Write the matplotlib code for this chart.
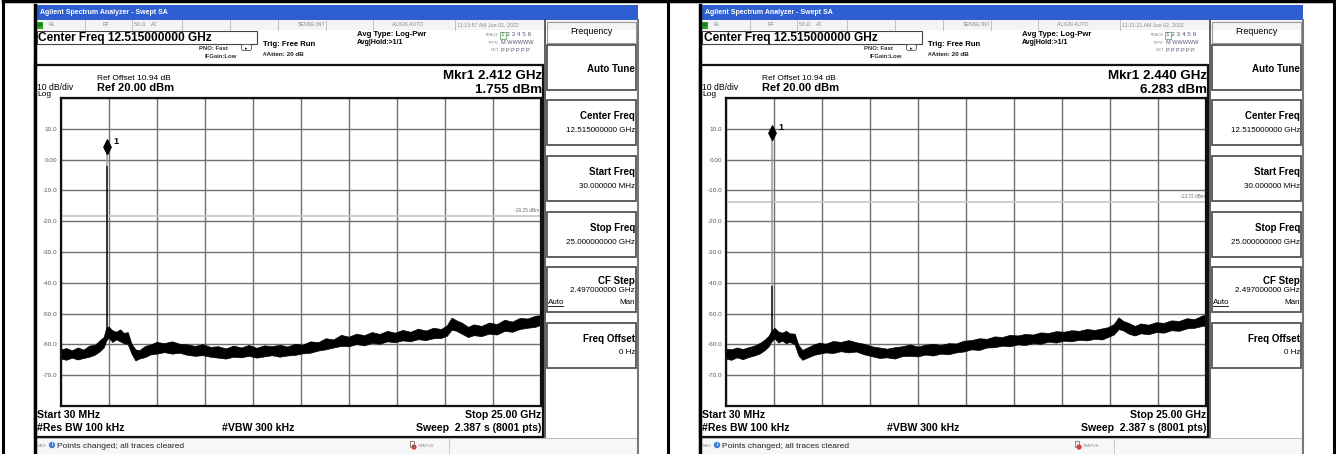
import matplotlib
matplotlib.use("Agg")
import matplotlib.pyplot as plt
import matplotlib.patches as mpatches
from matplotlib.path import Path
import numpy as np

plt.rcParams["font.family"] = ["Liberation Sans", "DejaVu Sans"]

# ── data ─────────────────────────────────────────────────────────────────────
start_ghz = 0.03
stop_ghz = 25.0
y_ticks = [-80, -70, -60, -50, -40, -30, -20, -10, 0, 10, 20]
y_tick_labels = ["", "-70.0", "-60.0", "-50.0", "-40.0", "-30.0", "-20.0",
                 "-10.0", "0.00", "10.0", ""]

panel_times = ["11:13:57 AM Jun 02, 2022", "11:21:21 AM Jun 02, 2022"]
mkr_freqs = [2.412, 2.440]          # GHz
mkr_levels = [1.755, 6.283]         # dBm
mkr_freq_txt = ["2.412 GHz", "2.440 GHz"]
mkr_level_txt = ["1.755 dBm", "6.283 dBm"]
disp_lines = [-18.25, -13.72]       # dBm
disp_line_txt = ["-18.25 dBm", "-13.72 dBm"]
spike_base = [-57.5, -58.0]         # dBm, foot of carrier spike
spike_solid_top = [-2.0, -41.0]     # dBm, where the dark part of the spike ends

# noise floor envelope, left screenshot (GHz, lower dBm, upper dBm)
left_f = [0.03, 0.3, 0.6, 0.9, 1.2, 1.5, 1.8, 2.05, 2.25, 2.38,
          2.5, 2.7, 2.9, 3.1, 3.3, 3.5, 3.7, 3.9, 4.1, 4.4,
          4.7, 5.0, 5.4, 5.8, 6.2, 6.6, 7.0, 7.4, 7.8, 8.2,
          8.6, 9.0, 9.4, 9.8, 10.2, 10.6, 11.0, 11.4, 11.8, 12.2,
          12.6, 13.0, 13.4, 13.8, 14.2, 14.6, 15.0, 15.4, 15.8, 16.2,
          16.6, 17.0, 17.4, 17.8, 18.2, 18.6, 19.0, 19.4, 19.8, 20.1,
          20.35, 20.6, 20.9, 21.2, 21.5, 21.9, 22.3, 22.7, 23.1, 23.5,
          23.9, 24.3, 24.7, 25.0]
left_lo = [-64.6, -65.0, -64.3, -64.9, -64.4, -64.0, -63.3, -62.2, -61.0, -58.8,
           -57.8, -59.2, -58.4, -59.0, -59.6, -59.9, -63.0, -65.2, -64.6, -64.1,
           -63.2, -63.0, -62.5, -63.0, -62.7, -63.4, -63.7, -63.5, -64.0, -64.3,
           -64.6, -64.0, -64.2, -63.7, -64.3, -63.9, -63.5, -64.0, -63.6, -63.4,
           -62.9, -62.7, -62.0, -61.6, -61.0, -60.5, -60.6, -59.9, -60.3, -59.5,
           -59.8, -59.0, -59.3, -58.7, -59.0, -58.3, -58.6, -58.0, -57.9, -57.2,
           -55.2, -55.6, -56.6, -57.6, -57.0, -57.3, -56.5, -56.8, -55.6, -55.9,
           -55.0, -54.6, -54.3, -53.6]
left_hi = [-61.6, -61.2, -61.9, -61.0, -61.7, -60.4, -60.1, -58.6, -57.6, -54.6,
           -54.2, -55.4, -55.9, -55.1, -56.3, -56.0, -59.8, -61.6, -61.9, -60.5,
           -60.0, -59.2, -59.6, -59.0, -59.8, -60.0, -60.5, -59.9, -60.8, -60.6,
           -61.3, -60.4, -61.0, -60.2, -61.1, -60.3, -60.6, -60.1, -60.7, -59.8,
           -60.1, -59.0, -59.3, -58.0, -58.4, -56.9, -57.5, -56.5, -57.0, -56.0,
           -56.6, -55.6, -56.2, -55.3, -55.9, -54.9, -55.5, -54.6, -55.0, -53.8,
           -51.3, -52.2, -53.0, -54.3, -53.5, -54.0, -52.9, -53.4, -52.0, -52.6,
           -51.4, -51.6, -50.7, -50.5]

# noise floor envelope, right screenshot
right_f = [0.03, 0.3, 0.6, 0.9, 1.2, 1.5, 1.8, 2.05, 2.25, 2.38,
           2.55, 2.75, 2.95, 3.15, 3.35, 3.6, 3.8, 4.0, 4.3, 4.6,
           4.9, 5.2, 5.6, 6.0, 6.4, 6.8, 7.2, 7.6, 8.0, 8.4,
           8.8, 9.2, 9.6, 10.0, 10.4, 10.8, 11.2, 11.6, 12.0, 12.4,
           12.8, 13.2, 13.6, 14.0, 14.4, 14.8, 15.2, 15.6, 16.0, 16.4,
           16.8, 17.2, 17.6, 18.0, 18.4, 18.8, 19.2, 19.6, 19.9, 20.2,
           20.45, 20.7, 21.0, 21.3, 21.6, 22.0, 22.4, 22.8, 23.2, 23.6,
           24.0, 24.4, 24.8, 25.0]
right_lo = [-64.6, -65.0, -64.2, -64.8, -64.1, -63.6, -62.9, -61.8, -60.6, -59.2,
            -58.0, -59.4, -58.8, -59.6, -59.2, -60.0, -63.6, -65.0, -64.2, -63.4,
            -63.0, -62.6, -62.8, -62.2, -62.6, -62.3, -63.2, -63.8, -64.4, -64.2,
            -64.6, -63.8, -63.7, -63.9, -63.3, -63.6, -63.0, -63.2, -62.6, -62.3,
            -61.6, -61.8, -61.0, -60.9, -60.4, -60.6, -60.0, -60.2, -59.6, -59.8,
            -59.1, -59.4, -58.8, -59.0, -58.5, -58.7, -58.2, -58.4, -57.6, -56.8,
            -55.0, -55.5, -56.6, -57.1, -56.4, -56.7, -56.0, -56.2, -55.4, -55.6,
            -54.8, -54.6, -54.0, -53.8]
right_hi = [-61.4, -61.6, -61.0, -61.5, -60.9, -60.4, -59.5, -58.4, -57.2, -55.6,
            -54.6, -55.8, -56.2, -55.6, -56.4, -56.5, -60.2, -61.8, -60.9, -60.0,
            -59.4, -59.8, -58.9, -59.2, -58.6, -59.3, -59.8, -60.6, -61.0, -61.4,
            -60.9, -60.6, -60.0, -60.7, -60.1, -59.8, -60.2, -59.6, -59.7, -58.8,
            -58.6, -58.0, -58.2, -57.4, -57.6, -56.9, -57.1, -56.6, -56.8, -56.1,
            -56.3, -55.7, -55.9, -55.4, -55.6, -55.0, -55.3, -54.8, -54.4, -53.4,
            -51.2, -52.4, -53.1, -54.0, -53.2, -53.6, -52.8, -53.0, -52.2, -52.4,
            -51.5, -51.8, -50.6, -50.4]

floor_f = [left_f, right_f]
floor_lo = [left_lo, right_lo]
floor_hi = [left_hi, right_hi]

softkeys = [("Auto Tune", ""), ("Center Freq", "12.515000000 GHz"),
            ("Start Freq", "30.000000 MHz"), ("Stop Freq", "25.000000000 GHz"),
            ("CF Step", "2.497000000 GHz"), ("Freq Offset", "0 Hz")]

# ── figure / background layer in pixel coordinates ──────────────────────────
W, H = 1336, 454
fig = plt.figure(figsize=(W / 100, H / 100), dpi=100)
bg = fig.add_axes([0, 0, 1, 1])
bg.set_xlim(0, W)
bg.set_ylim(H, 0)
bg.axis("off")

TITLE_BLUE = "#2d5fd3"
GRID_GRAY = "#707070"
LIGHT = "#8a8a8a"


def rect(x, y, w, h, **kw):
    kw.setdefault("fill", False)
    bg.add_patch(mpatches.Rectangle((x, y), w, h, **kw))


def txt(x, y, s, size, **kw):
    kw.setdefault("va", "center")
    bg.text(x, y, s, fontsize=size, **kw)


# table borders
for xb in (3, 668, 1334):
    bg.plot([xb, xb], [0, H], color="black", lw=2.2, solid_capstyle="butt")
bg.plot([3, 1334], [1, 1], color="black", lw=2.5)

# marker shape: diamond with its bottom tip on the data point
diamond = Path([(0, 0), (0.5, 1), (0, 2), (-0.5, 1), (0, 0)],
               [Path.MOVETO, Path.LINETO, Path.LINETO, Path.LINETO, Path.CLOSEPOLY])


def draw_panel(i, dx):
    # window frame
    rect(35 + dx, 5, 603, 449, fill=True, fc="white", ec="none")
    rect(35 + dx, 5, 603, 15, fill=True, fc=TITLE_BLUE, ec="none")
    txt(40 + dx, 12.5, "Agilent Spectrum Analyzer - Swept SA", 5, color="white",
        weight="bold")
    bg.plot([35 + dx, 35 + dx], [5, H], color="black", lw=2.5)
    bg.plot([638 + dx, 638 + dx], [20, H], color="#777777", lw=1.5)

    # status row
    rect(35 + dx, 20, 603, 10, fill=True, fc="#f4f4f4", ec="none")
    for xs in (85, 132, 182, 230, 278, 326, 373, 455):
        bg.plot([xs + dx, xs + dx], [20, 30], color="#b8b8b8", lw=0.6)
    rect(37 + dx, 21.5, 6, 7, fill=True, fc="#26a526", ec="none")
    txt(37.5 + dx, 25, "LXI", 2.5, color="#003300")
    for xs, s in ((49, "RL"), (103, "RF"), (134, "50 Ω"), (151, "AC"),
                  (298, "SENSE:INT"), (392, "ALIGN AUTO"), (457, panel_times[i])):
        txt(xs + dx, 25, s, 3.8, color=LIGHT)

    # header
    rect(37 + dx, 31, 220, 13, ec="#444444", lw=0.8)
    txt(38.5 + dx, 37.5, "Center Freq 12.515000000 GHz", 8.6, weight="bold")
    txt(228 + dx, 48, "PNO: Fast", 4.3, ha="right", weight="bold", color="#333333")
    txt(237 + dx, 57, "IFGain:Low", 4.3, ha="right", weight="bold", color="#333333")
    bg.add_patch(mpatches.FancyBboxPatch((242 + dx, 45), 9, 5,
                                         boxstyle="round,pad=0.5,rounding_size=2",
                                         fc="white", ec="#555555", lw=0.6))
    txt(246.5 + dx, 48.5, "▸", 3.5, ha="center", color="#222222")
    txt(263 + dx, 44, "Trig: Free Run", 5.6, weight="bold")
    txt(263 + dx, 55, "#Atten: 20 dB", 4.6, weight="bold", color="#222222")
    txt(357 + dx, 35, "Avg Type: Log-Pwr", 5.6, weight="bold")
    txt(357 + dx, 43, "Avg|Hold:>1/1", 5.0, weight="bold")
    for yy, lab, val in ((35, "TRACE", "1 2 3 4 5 6"), (43, "TYPE", "M WWWWW"),
                         (50, "DET", "P P P P P P")):
        txt(499 + dx, yy, lab, 3.0, ha="right", color=LIGHT)
        txt(501 + dx, yy, val, 4.6 if lab == "TRACE" else 4.0, color="#555577")
    rect(500 + dx, 31.5, 6, 7, ec="#66aa66", lw=0.6)

    # display box
    rect(35 + dx, 65, 508, 372, ec="#111111", lw=1.6)
    txt(97 + dx, 78, "Ref Offset 10.94 dB", 6.0)
    txt(37 + dx, 87, "10 dB/div", 6.2)
    txt(97 + dx, 88, "Ref 20.00 dBm", 8.0, weight="bold")
    txt(37 + dx, 94.5, "Log", 6.0)
    txt(542 + dx, 76, "Mkr1 " + mkr_freq_txt[i], 9.6, ha="right", weight="bold")
    txt(542 + dx, 90, mkr_level_txt[i], 9.6, ha="right", weight="bold")
    txt(37 + dx, 415, "Start 30 MHz", 7.6, weight="bold")
    txt(37 + dx, 428, "#Res BW 100 kHz", 7.6, weight="bold")
    txt(222 + dx, 428, "#VBW 300 kHz", 7.6, weight="bold")
    txt(541 + dx, 415, "Stop 25.00 GHz", 7.6, ha="right", weight="bold")
    txt(541 + dx, 428, "Sweep  2.387 s (8001 pts)", 7.6, ha="right", weight="bold")

    # message bar
    rect(35 + dx, 438, 603, 16, fill=True, fc="#f7f7f7", ec="#b0b0b0", lw=0.6)
    txt(38 + dx, 446, "MSG", 2.8, color=LIGHT)
    bg.add_patch(mpatches.Circle((52 + dx, 445), 3.2, fc="#3d7bd9", ec="none"))
    txt(52 + dx, 445, "i", 3.5, ha="center", color="white", weight="bold")
    txt(57 + dx, 446, "Points changed; all traces cleared", 6.0, color="#222222")
    bg.add_patch(mpatches.Circle((414 + dx, 447), 2.6, fc="#e03030", ec="none"))
    rect(410 + dx, 441, 4, 6, ec="#777777", lw=0.6)
    txt(418 + dx, 446, "STATUS", 3.2, color=LIGHT)
    bg.plot([449 + dx, 449 + dx], [438, H], color="#c0c0c0", lw=0.6)

    # softkey panel
    bg.plot([545 + dx, 545 + dx], [20, 437], color="#444444", lw=1.2)
    rect(547 + dx, 22, 89, 21, ec="#9a9a9a", lw=0.8)
    txt(591 + dx, 32, "Frequency", 6.4, ha="center")
    for k, (title, value) in enumerate(softkeys):
        y0 = [45, 100, 156, 212, 267, 323][k]
        rect(547 + dx, y0, 89, 45, ec="#555555", lw=1.3)
        if value == "":
            txt(635 + dx, y0 + 24, title, 7.0, ha="right", weight="bold")
        elif title == "CF Step":
            txt(635 + dx, y0 + 14, title, 7.0, ha="right", weight="bold")
            txt(635 + dx, y0 + 24, value, 5.8, ha="right")
            txt(635 + dx, y0 + 35, "Man", 5.8, ha="right")
            txt(548 + dx, y0 + 35, "Auto", 5.8)
            bg.plot([548 + dx, 563 + dx], [y0 + 39, y0 + 39], color="black", lw=0.6)
        else:
            txt(635 + dx, y0 + 16, title, 7.0, ha="right", weight="bold")
            txt(635 + dx, y0 + 30, value, 5.8, ha="right")

    # graticule in data coordinates
    ax = fig.add_axes([(61 + dx) / W, 1 - 406 / H, 480 / W, 308 / H])
    ax.set_xlim(start_ghz, stop_ghz)
    ax.set_ylim(y_ticks[0], y_ticks[-1])
    ax.set_xticks(np.linspace(start_ghz, stop_ghz, 11))
    ax.set_xticklabels([])
    ax.set_yticks(y_ticks)
    ax.set_yticklabels(y_tick_labels)
    ax.tick_params(length=0, pad=2.5, labelsize=4.6, labelcolor="#5a5a5a")
    ax.grid(True, color=GRID_GRAY, lw=1.0)
    ax.set_axisbelow(True)
    for sp in ax.spines.values():
        sp.set_color("#111111")
        sp.set_linewidth(1.6)

    # display line
    ax.axhline(disp_lines[i], color="#c9c9c9", lw=1.3)
    ax.annotate(disp_line_txt[i], xy=(1, disp_lines[i]),
                xycoords=("axes fraction", "data"), xytext=(-1, 2),
                textcoords="offset points", ha="right", va="bottom",
                fontsize=3.4, color="#666666")

    # trace: noise floor band + carrier spike
    ax.fill_between(floor_f[i], floor_lo[i], floor_hi[i], color="black", lw=0.5)
    ax.vlines(mkr_freqs[i], spike_base[i], spike_solid_top[i], color="black", lw=1.1)
    ax.vlines(mkr_freqs[i], spike_solid_top[i], mkr_levels[i], color="#9a9a9a", lw=1.1)

    # marker 1
    ax.plot(mkr_freqs[i], mkr_levels[i], marker=diamond, ms=21, color="black",
            ls="none", clip_on=False)
    ax.annotate("1", xy=(mkr_freqs[i], mkr_levels[i]), xytext=(4.5, 9.5),
                textcoords="offset points", ha="left", va="center",
                fontsize=6.5, weight="bold")


draw_panel(0, 0)
draw_panel(1, 665)

fig.savefig("out.png", dpi=100)
